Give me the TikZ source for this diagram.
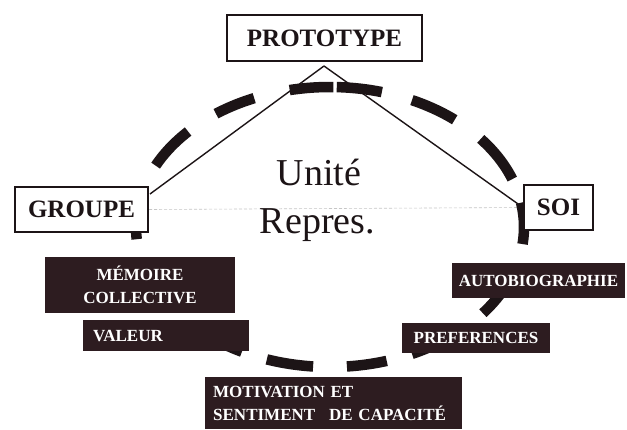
\documentclass[tikz,border=0pt]{standalone}
\usepackage{fontspec}
\setmainfont{Liberation Serif}
\usetikzlibrary{calc,backgrounds}
\definecolor{ink}{RGB}{28,20,22}
\definecolor{panel}{RGB}{45,28,32}
% one dash of the elliptic ring, between two parameter angles (degrees)
\newcommand\ringarc[2]{\draw[ring] plot[domain=#1:#2,samples=16,smooth] ({330+194*cos(\x)},{227-140*sin(\x)});}
\begin{document}
\begin{tikzpicture}[x=1pt,y=-1pt,
  framebox/.style={draw=ink, line width=2pt, fill=white, text=ink,
    font=\fontsize{25}{28}\selectfont\bfseries, inner sep=0pt},
  darkbox/.style={fill=panel, text=white,
    font=\fontsize{17}{23}\selectfont\bfseries, inner sep=0pt},
  ring/.style={draw=ink, line width=10.5pt},
  link/.style={draw=ink, line width=1.4pt},
  faint/.style={draw=gray!45, line width=0.6pt, dash pattern=on 3pt off 2pt},
  bigtext/.style={font=\fontsize{38}{44}\selectfont, text=ink, anchor=base, inner sep=0pt}]
\useasboundingbox (0,0) rectangle (627,429);

% framed poles
\node[framebox, minimum width=195pt, minimum height=46pt] (proto) at (324.5,38) {PROTOTYPE};
\node[framebox, minimum width=133pt, minimum height=45pt] (groupe) at (81.5,209.5) {GROUPE};
\node[framebox, minimum width=69pt, minimum height=45pt] (soi) at (558.5,207.5) {SOI};
\coordinate (apex) at (324,66);

% dark labels
\node[darkbox, minimum width=190pt, minimum height=56pt, align=center] (memoire) at (140,285) {MÉMOIRE\\COLLECTIVE};
\node[darkbox, anchor=north west, minimum height=31pt, text width=146pt, inner xsep=10pt, align=left] (valeur) at (83,320) {VALEUR};
\node[darkbox, minimum width=173pt, minimum height=35pt] (autobio) at (538.5,280.5) {AUTOBIOGRAPHIE};
\node[darkbox, minimum width=148pt, minimum height=30pt] (pref) at (476,338) {PREFERENCES};
\node[darkbox, anchor=north west, minimum height=52pt, text width=241pt, inner xsep=8pt, align=left] (motiv) at (205,377) {MOTIVATION ET\\SENTIMENT\hspace{14pt}DE CAPACITÉ};

% centre
\node[bigtext] (unite) at (319,185) {Unité};
\node[bigtext] (repres) at (317.5,233) {Repres.};

% behind the boxes: paper, faint rule, dashed ring, triangle sides
\begin{scope}[on background layer]
  \fill[white] (0,0) rectangle (627,429);
  \draw[faint] (groupe.east) -- (soi.west);
  \foreach \a/\b in {20/39,50/65,74.5/88,89/102,113/126,137/154,170/185,
                     225/243,251/265,275/287,295/312,322/335,-7/10}
    {\ringarc{\a}{\b}}
  \draw[link] (apex) -- ($(groupe.north east)+(1,8)$);
  \draw[link] (apex) -- (soi.west);
\end{scope}
\end{tikzpicture}
\end{document}
